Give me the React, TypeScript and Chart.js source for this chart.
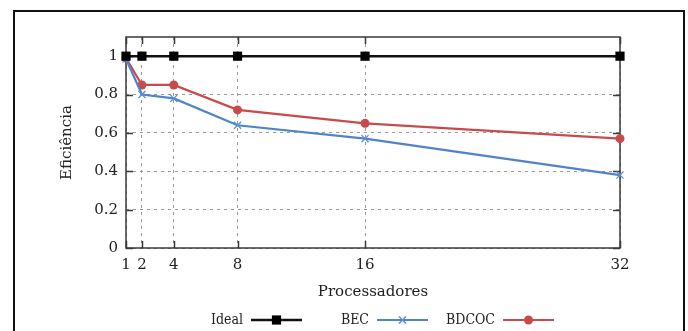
import React, { useEffect, useRef } from "react";
import { Chart, registerables } from "chart.js";

Chart.register(...registerables);

// Number of processors on the x axis
const processors = [1, 2, 4, 8, 16, 32];
// Efficiency for each configuration
const idealEff = [1, 1, 1, 1, 1, 1];
const becEff = [0.985, 0.8, 0.78, 0.64, 0.57, 0.38];
const bdcocEff = [0.99, 0.85, 0.85, 0.72, 0.65, 0.57];
// Tick values
const xTickValues = [1, 2, 4, 8, 16, 32];
const yTickValues = [0, 0.2, 0.4, 0.6, 0.8, 1];

const SERIF = "'DejaVu Serif', serif";
const INK = "#222";
const AXIS = "#3a3a3a";

const toPoints = (ys: number[]) => processors.map((x, i) => ({ x, y: ys[i] }));

function drawMarker(ctx: CanvasRenderingContext2D, style: string, x: number, y: number, r: number, color: string) {
  ctx.save();
  ctx.fillStyle = color;
  ctx.strokeStyle = color;
  ctx.lineWidth = 1.5;
  if (style === "rect") {
    const s = r * Math.SQRT1_2;
    ctx.fillRect(x - s, y - s, 2 * s, 2 * s);
  } else if (style === "crossRot") {
    const s = r * Math.SQRT1_2;
    ctx.beginPath();
    ctx.moveTo(x - s, y - s);
    ctx.lineTo(x + s, y + s);
    ctx.moveTo(x - s, y + s);
    ctx.lineTo(x + s, y - s);
    ctx.stroke();
  } else {
    ctx.beginPath();
    ctx.arc(x, y, r, 0, Math.PI * 2);
    ctx.fill();
  }
  ctx.restore();
}

// Page frame, plot box, inner tick marks and the gnuplot-style key
const decorations = {
  id: "decorations",
  beforeDraw(chart: any) {
    const { ctx, width, height } = chart;
    ctx.save();
    ctx.fillStyle = "#fff";
    ctx.fillRect(0, 0, width, height);
    ctx.strokeStyle = "#111";
    ctx.lineWidth = 2;
    ctx.beginPath();
    ctx.moveTo(14, height);
    ctx.lineTo(14, 11);
    ctx.lineTo(684, 11);
    ctx.lineTo(684, height);
    ctx.stroke();
    ctx.restore();
  },
  beforeDatasetsDraw(chart: any) {
    const { ctx, chartArea: a, scales } = chart;
    const tl = 7;
    ctx.save();
    ctx.strokeStyle = AXIS;
    ctx.lineWidth = 1.5;
    ctx.strokeRect(a.left, a.top, a.right - a.left, a.bottom - a.top);
    ctx.beginPath();
    for (const v of xTickValues) {
      const px = Math.round(scales.x.getPixelForValue(v)) + 0.5;
      ctx.moveTo(px, a.bottom);
      ctx.lineTo(px, a.bottom - tl);
      ctx.moveTo(px, a.top);
      ctx.lineTo(px, a.top + tl);
    }
    for (const v of yTickValues) {
      const py = Math.round(scales.y.getPixelForValue(v)) + 0.5;
      ctx.moveTo(a.left, py);
      ctx.lineTo(a.left + tl, py);
      ctx.moveTo(a.right, py);
      ctx.lineTo(a.right - tl, py);
    }
    ctx.stroke();
    ctx.restore();
  },
  afterDraw(chart: any) {
    const { ctx } = chart;
    const y = 320;
    const firstTextEnd = 243;
    const step = 126;
    const gap = 8;
    const sampleLen = 51;
    ctx.save();
    ctx.font = "14px 'DejaVu Serif Condensed', 'DejaVu Serif', serif";
    ctx.textAlign = "right";
    ctx.textBaseline = "middle";
    chart.data.datasets.forEach((ds: any, i: number) => {
      const textEnd = firstTextEnd + i * step;
      ctx.fillStyle = INK;
      ctx.fillText(ds.label, textEnd, y);
      const x0 = textEnd + gap;
      const x1 = x0 + sampleLen;
      ctx.strokeStyle = ds.borderColor;
      ctx.lineWidth = ds.borderWidth;
      ctx.beginPath();
      ctx.moveTo(x0, y);
      ctx.lineTo(x1, y);
      ctx.stroke();
      drawMarker(ctx, ds.pointStyle, (x0 + x1) / 2, y, ds.pointRadius, ds.pointBorderColor || ds.borderColor);
    });
    ctx.restore();
  },
};

export default function App() {
  const canvasRef = useRef<HTMLCanvasElement | null>(null);

  useEffect(() => {
    if (!canvasRef.current) return;
    const chart = new Chart(canvasRef.current, {
      type: "line",
      data: {
        datasets: [
          {
            label: "Ideal",
            data: toPoints(idealEff),
            borderColor: "#111",
            backgroundColor: "#111",
            borderWidth: 2.5,
            pointStyle: "rect",
            pointRadius: 6.5,
            pointBorderWidth: 0,
            pointBackgroundColor: "#000",
            pointBorderColor: "#000",
          },
          {
            label: "BEC",
            data: toPoints(becEff),
            borderColor: "#4f84c8",
            backgroundColor: "#4f84c8",
            borderWidth: 2.2,
            pointStyle: "crossRot",
            pointRadius: 5,
            pointBorderWidth: 1.3,
            pointBorderColor: "#5b90d6",
          },
          {
            label: "BDCOC",
            data: toPoints(bdcocEff),
            borderColor: "#c94a4a",
            backgroundColor: "#c94a4a",
            borderWidth: 2.2,
            pointStyle: "circle",
            pointRadius: 4.5,
            pointBorderWidth: 0,
            pointBackgroundColor: "#c94a4a",
            pointBorderColor: "#c94a4a",
          },
        ] as any,
      },
      options: {
        animation: false,
        responsive: false,
        clip: false as any,
        layout: { padding: { left: 58, right: 68, top: 37, bottom: 30 } },
        plugins: {
          legend: { display: false },
          tooltip: { enabled: false },
        },
        scales: {
          x: {
            type: "linear",
            min: 1,
            max: 32,
            afterBuildTicks: (scale: any) => {
              scale.ticks = xTickValues.map((value) => ({ value }));
            },
            afterFit: (scale: any) => {
              scale.height = 53;
            },
            ticks: {
              autoSkip: false,
              maxRotation: 0,
              padding: 8,
              color: INK,
              font: { family: SERIF, size: 15 },
              callback: (v: any) => String(v),
            },
            grid: { color: "#999", lineWidth: 1, drawTicks: false },
            border: { display: false, dash: [3, 4] },
            title: {
              display: true,
              text: "Processadores",
              color: INK,
              font: { family: SERIF, size: 15 },
              padding: { top: 0, bottom: 0 },
            },
          },
          y: {
            type: "linear",
            min: 0,
            max: 1.1,
            afterBuildTicks: (scale: any) => {
              scale.ticks = yTickValues.map((value) => ({ value }));
            },
            afterFit: (scale: any) => {
              scale.width = 68;
            },
            ticks: {
              padding: 8,
              color: INK,
              font: { family: SERIF, size: 15 },
              callback: (v: any) => String(+Number(v).toFixed(1)),
            },
            grid: { color: "#999", lineWidth: 1, drawTicks: false },
            border: { display: false, dash: [3, 4] },
            title: {
              display: true,
              text: "Eficiência",
              color: INK,
              font: { family: SERIF, size: 15 },
              padding: { top: 0, bottom: 0 },
            },
          },
        },
      },
      plugins: [decorations],
    });
    return () => chart.destroy();
  }, []);

  return (
    <div style={{ position: "absolute", left: 0, top: 0, width: 688, height: 331 }}>
      <canvas ref={canvasRef} width={688} height={331} style={{ display: "block" }} />
    </div>
  );
}
